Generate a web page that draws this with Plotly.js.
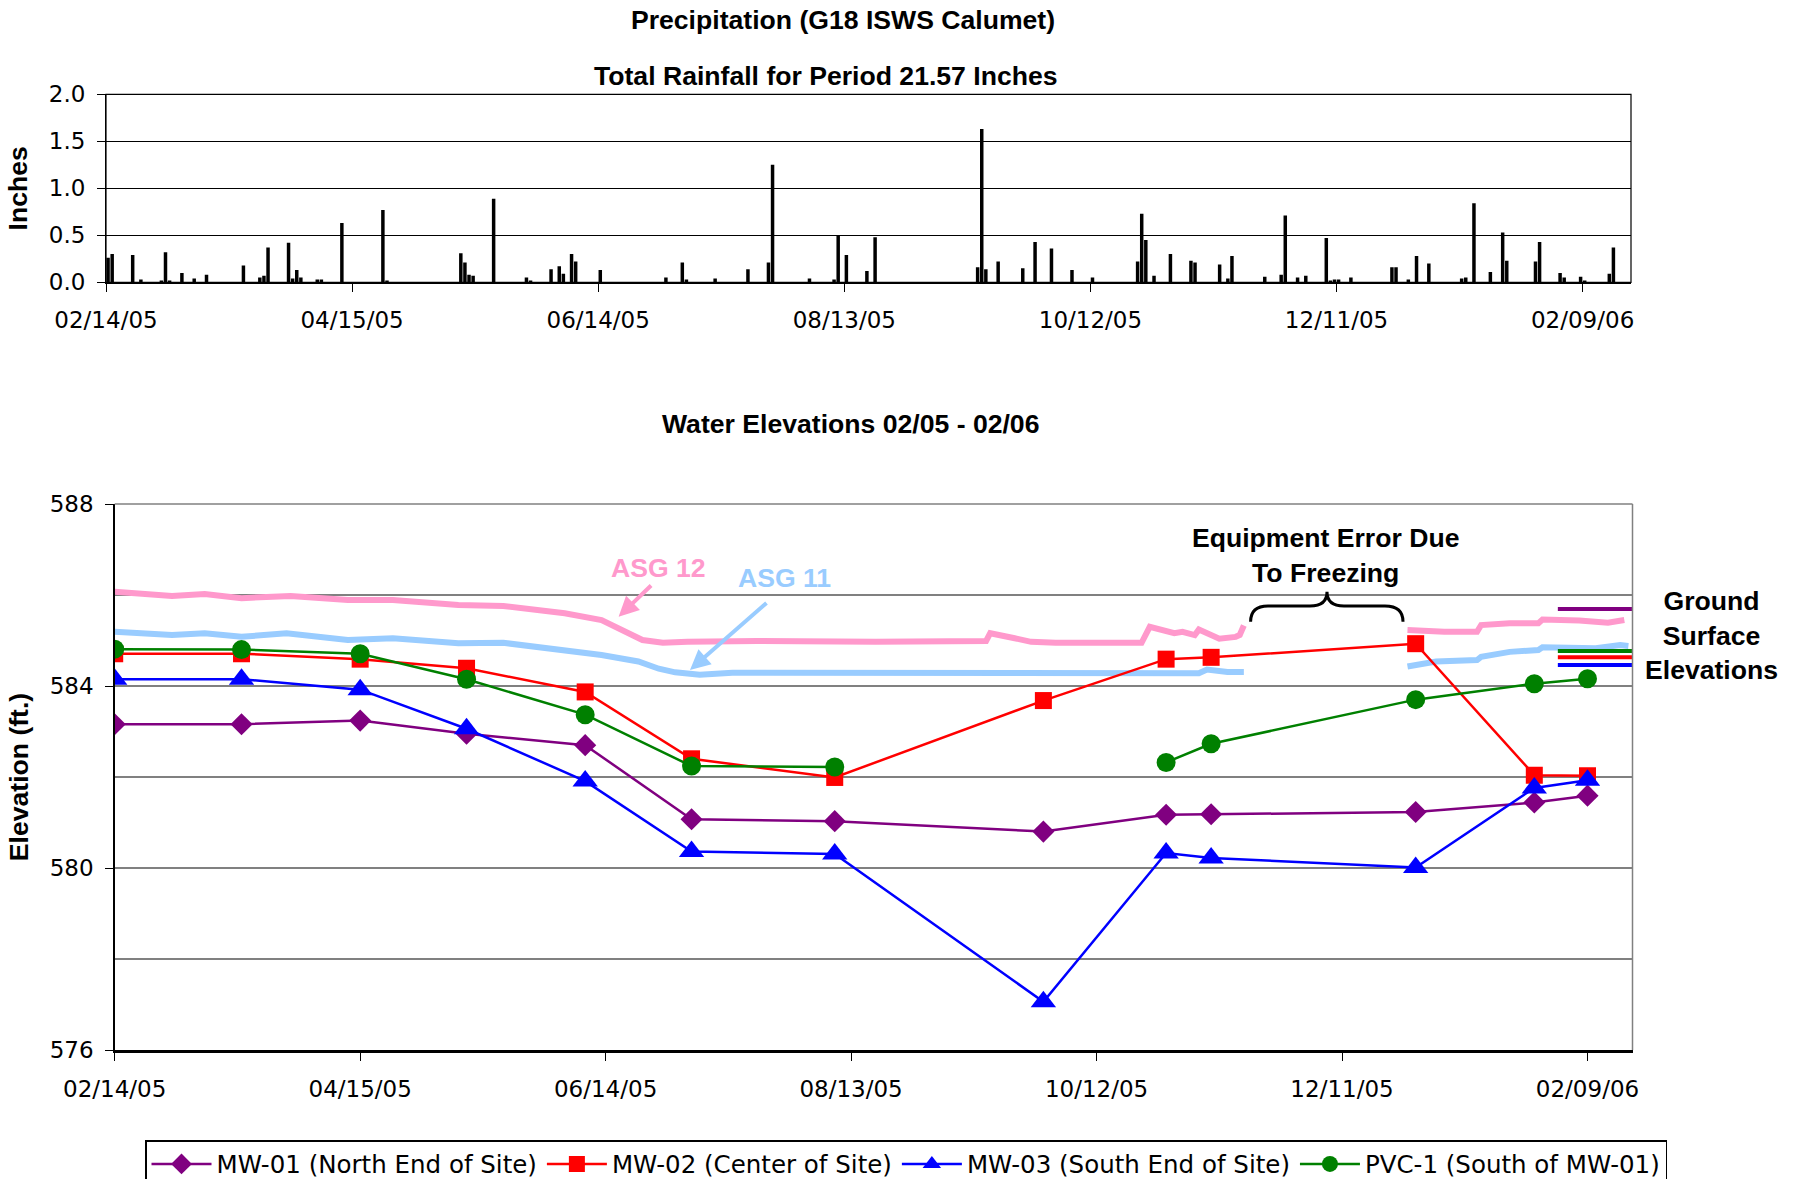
<!DOCTYPE html>
<html>
<head>
<meta charset="utf-8">
<script src="https://cdn.plot.ly/plotly-3.0.1.min.js"></script>
<style>
html,body{margin:0;padding:0;background:#fff;}
#chart{width:1802px;height:1179px;}
</style>
</head>
<body>
<div id="chart"></div>
<script>
// ---------------- DATA ----------------
// Daily precipitation (inches), G18 ISWS Calumet
const rainDates = [
 '2005-02-14','2005-02-15','2005-02-20','2005-02-22','2005-02-27','2005-02-28','2005-03-01','2005-03-04','2005-03-07','2005-03-10',
 '2005-03-19','2005-03-23','2005-03-24','2005-03-25','2005-03-30','2005-03-31','2005-04-01','2005-04-02','2005-04-06','2005-04-07',
 '2005-04-12','2005-04-22','2005-04-23','2005-05-11','2005-05-12','2005-05-13','2005-05-14','2005-05-19','2005-05-27','2005-05-28',
 '2005-06-02','2005-06-04','2005-06-05','2005-06-07','2005-06-08','2005-06-14','2005-06-30','2005-07-04','2005-07-05','2005-07-12',
 '2005-07-20','2005-07-25','2005-07-26','2005-08-04','2005-08-10','2005-08-11','2005-08-13','2005-08-18','2005-08-20','2005-09-14',
 '2005-09-15','2005-09-16','2005-09-19','2005-09-25','2005-09-28','2005-10-02','2005-10-07','2005-10-12','2005-10-23','2005-10-24',
 '2005-10-25','2005-10-27','2005-10-31','2005-11-05','2005-11-06','2005-11-12','2005-11-14','2005-11-15','2005-11-23','2005-11-27',
 '2005-11-28','2005-12-01','2005-12-03','2005-12-08','2005-12-09','2005-12-10','2005-12-11','2005-12-14','2005-12-24','2005-12-25',
 '2005-12-28','2005-12-30','2006-01-02','2006-01-10','2006-01-11','2006-01-13','2006-01-17','2006-01-20','2006-01-21','2006-01-28',
 '2006-01-29','2006-02-03','2006-02-04','2006-02-08','2006-02-09','2006-02-15','2006-02-16'
];
const rainInches = [
 0.26,0.30,0.29,0.03,0.02,0.32,0.02,0.10,0.04,0.08,
 0.18,0.05,0.07,0.37,0.42,0.04,0.13,0.05,0.03,0.03,
 0.63,0.77,0.02,0.31,0.21,0.08,0.07,0.89,0.05,0.02,
 0.14,0.17,0.09,0.30,0.22,0.13,0.05,0.21,0.03,0.04,
 0.14,0.21,1.25,0.04,0.03,0.50,0.29,0.12,0.48,0.16,
 1.63,0.14,0.22,0.15,0.43,0.36,0.13,0.05,0.22,0.73,
 0.45,0.07,0.30,0.23,0.21,0.19,0.04,0.28,0.06,0.08,
 0.71,0.05,0.07,0.47,0.02,0.03,0.03,0.05,0.16,0.16,
 0.03,0.28,0.20,0.04,0.05,0.84,0.11,0.53,0.23,0.22,
 0.43,0.10,0.05,0.06,0.02,0.09,0.37
];

// Monitoring well measurement dates and water elevations (ft.)
const wellDates = ['2005-02-14','2005-03-17','2005-04-15','2005-05-11','2005-06-09','2005-07-05','2005-08-09',
                   '2005-09-29','2005-10-29','2005-11-09','2005-12-29','2006-01-27','2006-02-09'];
const mw01 = [583.16,583.16,583.24,582.95,582.70,581.07,581.03,580.80,581.17,581.18,581.23,581.44,581.59];
const mw02 = [584.71,584.71,584.59,584.39,583.87,582.40,581.99,583.68,584.59,584.63,584.93,582.04,582.03];
const mw03 = [584.15,584.15,583.92,583.06,581.91,580.36,580.31,577.06,580.33,580.22,580.01,581.76,581.93];
const pvc1 = [584.81,584.80,584.71,584.15,583.37,582.24,582.22,null,582.32,582.73,583.70,584.05,584.16];
const wellNames = ['MW-01 (North End of Site)','MW-02 (Center of Site)','MW-03 (South End of Site)','PVC-1 (South of MW-01)'];

// Staff gauge records (ASG 12, ASG 11); null = equipment error gap
const asg12Dates = ['2005-02-14','2005-02-21','2005-02-28','2005-03-08','2005-03-17','2005-03-29','2005-04-12','2005-04-23',
  '2005-05-09','2005-05-20','2005-06-04','2005-06-13','2005-06-23','2005-06-28','2005-07-04','2005-07-21','2005-08-19',
  '2005-09-15','2005-09-16','2005-09-22','2005-09-26','2005-10-02','2005-10-23','2005-10-25','2005-10-28','2005-10-31',
  '2005-11-02','2005-11-05','2005-11-06','2005-11-11','2005-11-15','2005-11-16','2005-11-17',
  '2005-12-01',
  '2005-12-27','2006-01-05','2006-01-13','2006-01-14','2006-01-21','2006-01-28','2006-01-29','2006-02-07','2006-02-14','2006-02-18'];
const asg12Elev = [586.07,586.02,585.98,586.02,585.93,585.98,585.89,585.89,
  585.78,585.76,585.60,585.45,585.01,584.95,584.97,584.99,584.97,
  584.99,585.16,585.05,584.97,584.95,584.95,585.30,585.22,585.16,
  585.19,585.12,585.24,585.04,585.08,585.12,585.33,
  null,
  585.23,585.19,585.19,585.34,585.38,585.38,585.46,585.44,585.39,585.45];
const asg11Dates = ['2005-02-14','2005-02-21','2005-02-28','2005-03-08','2005-03-17','2005-03-28','2005-04-12','2005-04-23',
  '2005-05-09','2005-05-20','2005-06-04','2005-06-13','2005-06-22','2005-06-27','2005-07-01','2005-07-07','2005-07-15',
  '2005-08-29','2005-10-16','2005-11-06','2005-11-08','2005-11-13','2005-11-17',
  '2005-12-01',
  '2005-12-27','2006-01-03','2006-01-13','2006-01-14','2006-01-21','2006-01-28','2006-01-29','2006-02-11','2006-02-17','2006-02-19'];
const asg11Elev = [585.19,585.14,585.12,585.16,585.08,585.16,585.01,585.05,
  584.94,584.95,584.79,584.68,584.54,584.38,584.30,584.25,584.29,
  584.28,584.28,584.28,584.36,584.31,584.31,
  null,
  584.43,584.54,584.57,584.64,584.75,584.79,584.85,584.83,584.90,584.88];

// Ground surface elevations (ft.)
const groundWells = ['MW-01','PVC-1','MW-02','MW-03'];
const groundElev = [585.69, 584.77, 584.63, 584.46];
const groundSpan = ['2006-02-01 18:00','2006-02-20 00:00'];

// Tick / title text
const precipTitle = 'Precipitation (G18 ISWS Calumet)';
const rainTotalTitle = 'Total Rainfall for Period 21.57 Inches';
const elevTitle = 'Water Elevations 02/05 - 02/06';

// ---------------- STYLE / LAYOUT ----------------
const W = 1802, H = 1179;
const fx = x => x / W;
const fy = y => 1 - y / H;
const DAY = 86400000;
const REG = 'DejaVu Sans';
const BOLD = 'Liberation Sans, Arial, sans-serif';
const wellColors = ['#800080','#FF0000','#0000FF','#008000'];
const wellSymbols = ['diamond','square','triangle-up','circle'];
const wellSizes = [17,17,22,19];
const groundColors = ['#800080','#008000','#FF0000','#0000FF'];

const traces = [];
traces.push({
  type:'bar', x: rainDates, y: rainInches, xaxis:'x', yaxis:'y',
  width: DAY*0.85, offset: DAY*0.08,
  marker:{color:'#000000', line:{width:0}}, showlegend:false, hoverinfo:'skip'
});
traces.push({type:'scatter', mode:'lines', x: asg12Dates, y: asg12Elev, xaxis:'x2', yaxis:'y2',
  line:{color:'#FF99CC', width:6}, showlegend:false, connectgaps:false});
traces.push({type:'scatter', mode:'lines', x: asg11Dates, y: asg11Elev, xaxis:'x2', yaxis:'y2',
  line:{color:'#99CCFF', width:6}, showlegend:false, connectgaps:false});
groundElev.forEach((v,i) => {
  traces.push({type:'scatter', mode:'lines', x: groundSpan, y:[v,v], xaxis:'x2', yaxis:'y2',
    name: groundWells[i]+' ground surface', line:{color:groundColors[i], width:4}, showlegend:false});
});
[mw01, mw02, mw03, pvc1].forEach((ys,i) => {
  traces.push({type:'scatter', mode:'lines+markers', x: wellDates, y: ys, xaxis:'x2', yaxis:'y2',
    name: wellNames[i], connectgaps:false,
    line:{color:wellColors[i], width:2.5},
    marker:{symbol:wellSymbols[i], color:wellColors[i], size:wellSizes[i], line:{width:0}}});
});

const tickFont = {family:REG, size:23, color:'#000000'};
const boldFont = (size, color) => ({family:BOLD, size:size, color:color||'#000000', weight:700});

const xCommon = {
  type:'date', tickmode:'linear', tick0:'2005-02-14', dtick: 60*DAY, tickformat:'%m/%d/%y',
  ticks:'outside', ticklen:8, tickwidth:1, tickcolor:'#000000', showgrid:false, zeroline:false,
  showline:true, linecolor:'#000000', tickfont:tickFont, automargin:false, ticklabelstandoff:9
};

// brace for "Equipment Error" (pixel points -> paper)
const bracePts = [[1250.6,621.7],[1250.6,606],[1268,606],[1310,606],[1327,606],[1327,591.7],[1327,606],[1344,606],[1385,606],[1403,606],[1403,621.7]];
const P = p => fx(p[0]).toFixed(5)+','+fy(p[1]).toFixed(5);
const bracePath = 'M'+P(bracePts[0])+' Q'+P(bracePts[1])+' '+P(bracePts[2])+' L'+P(bracePts[3])+
  ' Q'+P(bracePts[4])+' '+P(bracePts[5])+' Q'+P(bracePts[6])+' '+P(bracePts[7])+
  ' L'+P(bracePts[8])+' Q'+P(bracePts[9])+' '+P(bracePts[10]);

const layout = {
  width:W, height:H, margin:{l:0,r:0,t:0,b:0,autoexpand:false},
  paper_bgcolor:'#ffffff', plot_bgcolor:'#ffffff', showlegend:true, hovermode:false,
  title:{text:precipTitle, x:fx(843), y:fy(19.5), xanchor:'center', yanchor:'middle', xref:'paper', yref:'paper',
         font:boldFont(26.6)},
  xaxis: Object.assign({}, xCommon, {domain:[fx(106), fx(1631)], anchor:'y',
         range:['2005-02-14','2006-02-20 19:00'], linewidth:1.5}),
  yaxis: {domain:[fy(282.3), fy(94.3)], anchor:'x', range:[0,2], tickmode:'linear', tick0:0, dtick:0.5,
          tickformat:'.1f', ticks:'outside', ticklen:8, tickcolor:'#000000', showgrid:true, gridcolor:'#000000',
          gridwidth:1, zeroline:false, showline:true, linecolor:'#000000', linewidth:1, tickfont:tickFont,
          automargin:false, ticklabelstandoff:7,
          title:{text:'Inches', font:boldFont(26.6), standoff:13}},
  xaxis2: Object.assign({}, xCommon, {domain:[fx(114.7), fx(1632.5)], anchor:'y2',
         range:['2005-02-14','2006-02-20 00:00'], linewidth:2.5}),
  yaxis2: {domain:[fy(1050), fy(504)], anchor:'x2', range:[576,588], tickmode:'linear', tick0:576, dtick:4,
          ticks:'outside', ticklen:8, tickcolor:'#000000', showgrid:true, gridcolor:'#808080', gridwidth:1.2,
          minor:{dtick:2, tick0:576, showgrid:true, gridcolor:'#808080', gridwidth:1.2, ticks:''},
          zeroline:false, showline:true, linecolor:'#000000', linewidth:1.5, tickfont:tickFont,
          automargin:false, ticklabelstandoff:7,
          title:{text:'Elevation (ft.)', font:boldFont(26.6), standoff:13}},
  legend:{orientation:'h', x:fx(145), y:fy(1140), xanchor:'left', yanchor:'top',
          bgcolor:'#ffffff', bordercolor:'#000000', borderwidth:1.5, font:{family:REG, size:24.5, color:'#000000'},
          traceorder:'normal', itemwidth:60},
  shapes:[
    {type:'rect', xref:'x domain', yref:'y domain', x0:0, x1:1, y0:0, y1:1, line:{color:'#000000', width:1.2}},
    {type:'line', xref:'x2 domain', yref:'y2 domain', x0:1, x1:1, y0:0, y1:1, line:{color:'#808080', width:1.5}},
    {type:'line', xref:'x2 domain', yref:'y2 domain', x0:0, x1:1, y0:1, y1:1, line:{color:'#808080', width:1.5}},
    {type:'path', xref:'paper', yref:'paper', path: bracePath, line:{color:'#000000', width:3}}
  ],
  annotations:[
    {text:rainTotalTitle, xref:'paper', yref:'paper', x:fx(826), y:fy(76), xanchor:'center', yanchor:'middle',
     showarrow:false, font:boldFont(26.6)},
    {text:elevTitle, xref:'paper', yref:'paper', x:fx(850), y:fy(424), xanchor:'center', yanchor:'middle',
     showarrow:false, font:boldFont(26.6)},
    {text:'ASG 12', xref:'paper', yref:'paper', x:fx(658), y:fy(568), xanchor:'center', yanchor:'middle',
     showarrow:false, font:boldFont(26.6,'#FF99CC')},
    {text:'ASG 11', xref:'paper', yref:'paper', x:fx(784), y:fy(578), xanchor:'center', yanchor:'middle',
     showarrow:false, font:boldFont(26.6,'#99CCFF')},
    {text:'', xref:'paper', yref:'paper', x:fx(618.6), y:fy(616.7), ax:34, ay:-32.7, axref:'pixel', ayref:'pixel',
     showarrow:true, arrowcolor:'#FF99CC', arrowwidth:4, arrowhead:2, arrowsize:1},
    {text:'', xref:'paper', yref:'paper', x:fx(690), y:fy(670), ax:78, ay:-68.3, axref:'pixel', ayref:'pixel',
     showarrow:true, arrowcolor:'#99CCFF', arrowwidth:4, arrowhead:2, arrowsize:1},
    {text:'Equipment Error Due<br>To Freezing', xref:'paper', yref:'paper', x:fx(1325), y:fy(555.5),
     xanchor:'center', yanchor:'middle', showarrow:false, font:boldFont(26.6)},
    {text:'Ground<br>Surface<br>Elevations', xref:'paper', yref:'paper', x:fx(1711), y:fy(635),
     xanchor:'center', yanchor:'middle', showarrow:false, font:boldFont(26.6)}
  ]
};

Plotly.newPlot('chart', traces, layout, {staticPlot:true, displayModeBar:false});
</script>
</body>
</html>
